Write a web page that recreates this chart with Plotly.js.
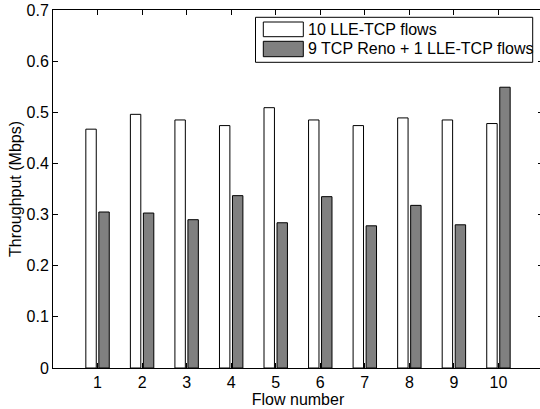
<!DOCTYPE html>
<html>
<head>
<meta charset="utf-8">
<script src="https://cdn.plot.ly/plotly-3.0.1.min.js"></script>
<style>
html,body{margin:0;padding:0;overflow:hidden;background:#fff;}
#chart{width:543px;height:409px;}
</style>
</head>
<body>
<div id="chart"></div>
<script>
// ---- data ----
var flows = [1, 2, 3, 4, 5, 6, 7, 8, 9, 10];
var lleOnly = [0.467, 0.496, 0.485, 0.474, 0.509, 0.485, 0.474, 0.489, 0.485, 0.478];
var renoMix = [0.305, 0.303, 0.290, 0.337, 0.284, 0.335, 0.278, 0.318, 0.280, 0.549];
var seriesNames = ['10 LLE-TCP flows', '9 TCP Reno + 1 LLE-TCP flows'];
var yTicks = [0, 0.1, 0.2, 0.3, 0.4, 0.5, 0.6, 0.7];

// ---- layout geometry (pixels) ----
var W = 543, H = 409;
var M = {l: 53, r: 0, t: 10, b: 41};
var PW = W - M.l - M.r, PH = H - M.t - M.b;
function px(x){ return (x - M.l) / PW; }
function py(y){ return (H - M.b - y) / PH; }

var FONT = 'Liberation Sans';
var FS = 16;
var GRAY = '#808080';

var traces = [
  {type:'bar', x: flows, y: lleOnly, name: seriesNames[0],
   width: 0.234, offset: -0.263,
   marker:{color:'#ffffff', line:{color:'#000000', width:1}}, showlegend:false},
  {type:'bar', x: flows, y: renoMix, name: seriesNames[1],
   width: 0.234, offset: 0.029,
   marker:{color:GRAY, line:{color:'#000000', width:1}}, showlegend:false}
];

// custom MATLAB-style legend
var lg = {x0:255.5, x1:532.7, y0:17.3, y1:62.3};
var sw = [{y0:22, y1:36.7, c:'#ffffff'}, {y0:41.3, y1:56.7, c:GRAY}];
var shapes = [
  {type:'rect', xref:'paper', yref:'paper', x0:px(lg.x0), x1:px(lg.x1), y0:py(lg.y1), y1:py(lg.y0),
   line:{color:'#000', width:1}, fillcolor:'#fff', layer:'above'}
];
var annotations = [];
sw.forEach(function(s, i){
  shapes.push({type:'rect', xref:'paper', yref:'paper', x0:px(263.3), x1:px(303.3),
    y0:py(s.y1), y1:py(s.y0), line:{color:'#000', width:1}, fillcolor:s.c, layer:'above'});
  annotations.push({xref:'paper', yref:'paper', x:px(305.5), y:py((s.y0+s.y1)/2),
    xanchor:'left', yanchor:'middle', showarrow:false, text:seriesNames[i],
    font:{family:FONT, size:FS, color:'#000'}});
});

var layout = {
  width: W, height: H,
  margin: {l:M.l, r:M.r, t:M.t, b:M.b, pad:0},
  paper_bgcolor:'#fff', plot_bgcolor:'#fff',
  barmode:'overlay',
  showlegend:false,
  font:{family:FONT, size:FS, color:'#000'},
  xaxis:{range:[0,11], tickvals:flows, ticktext:flows.map(String),
    ticks:'inside', ticklen:5, tickcolor:'#000', showline:true, linecolor:'#000', linewidth:1,
    mirror:'ticks', showgrid:false, zeroline:false,
    tickfont:{family:FONT, size:FS, color:'#000'},
    title:{text:'Flow number', font:{family:FONT, size:FS, color:'#000'}, standoff:2}},
  yaxis:{range:[0,0.7], tickvals:yTicks, ticktext:yTicks.map(String),
    ticks:'inside', ticklen:5, tickcolor:'#000', showline:true, linecolor:'#000', linewidth:1,
    mirror:'ticks', showgrid:false, zeroline:false,
    tickfont:{family:FONT, size:FS, color:'#000'},
    title:{text:'Throughput (Mbps)', font:{family:FONT, size:FS, color:'#000'}, standoff:0}},
  shapes: shapes,
  annotations: annotations
};

Plotly.newPlot('chart', traces, layout, {staticPlot:true, displayModeBar:false});
</script>
</body>
</html>
